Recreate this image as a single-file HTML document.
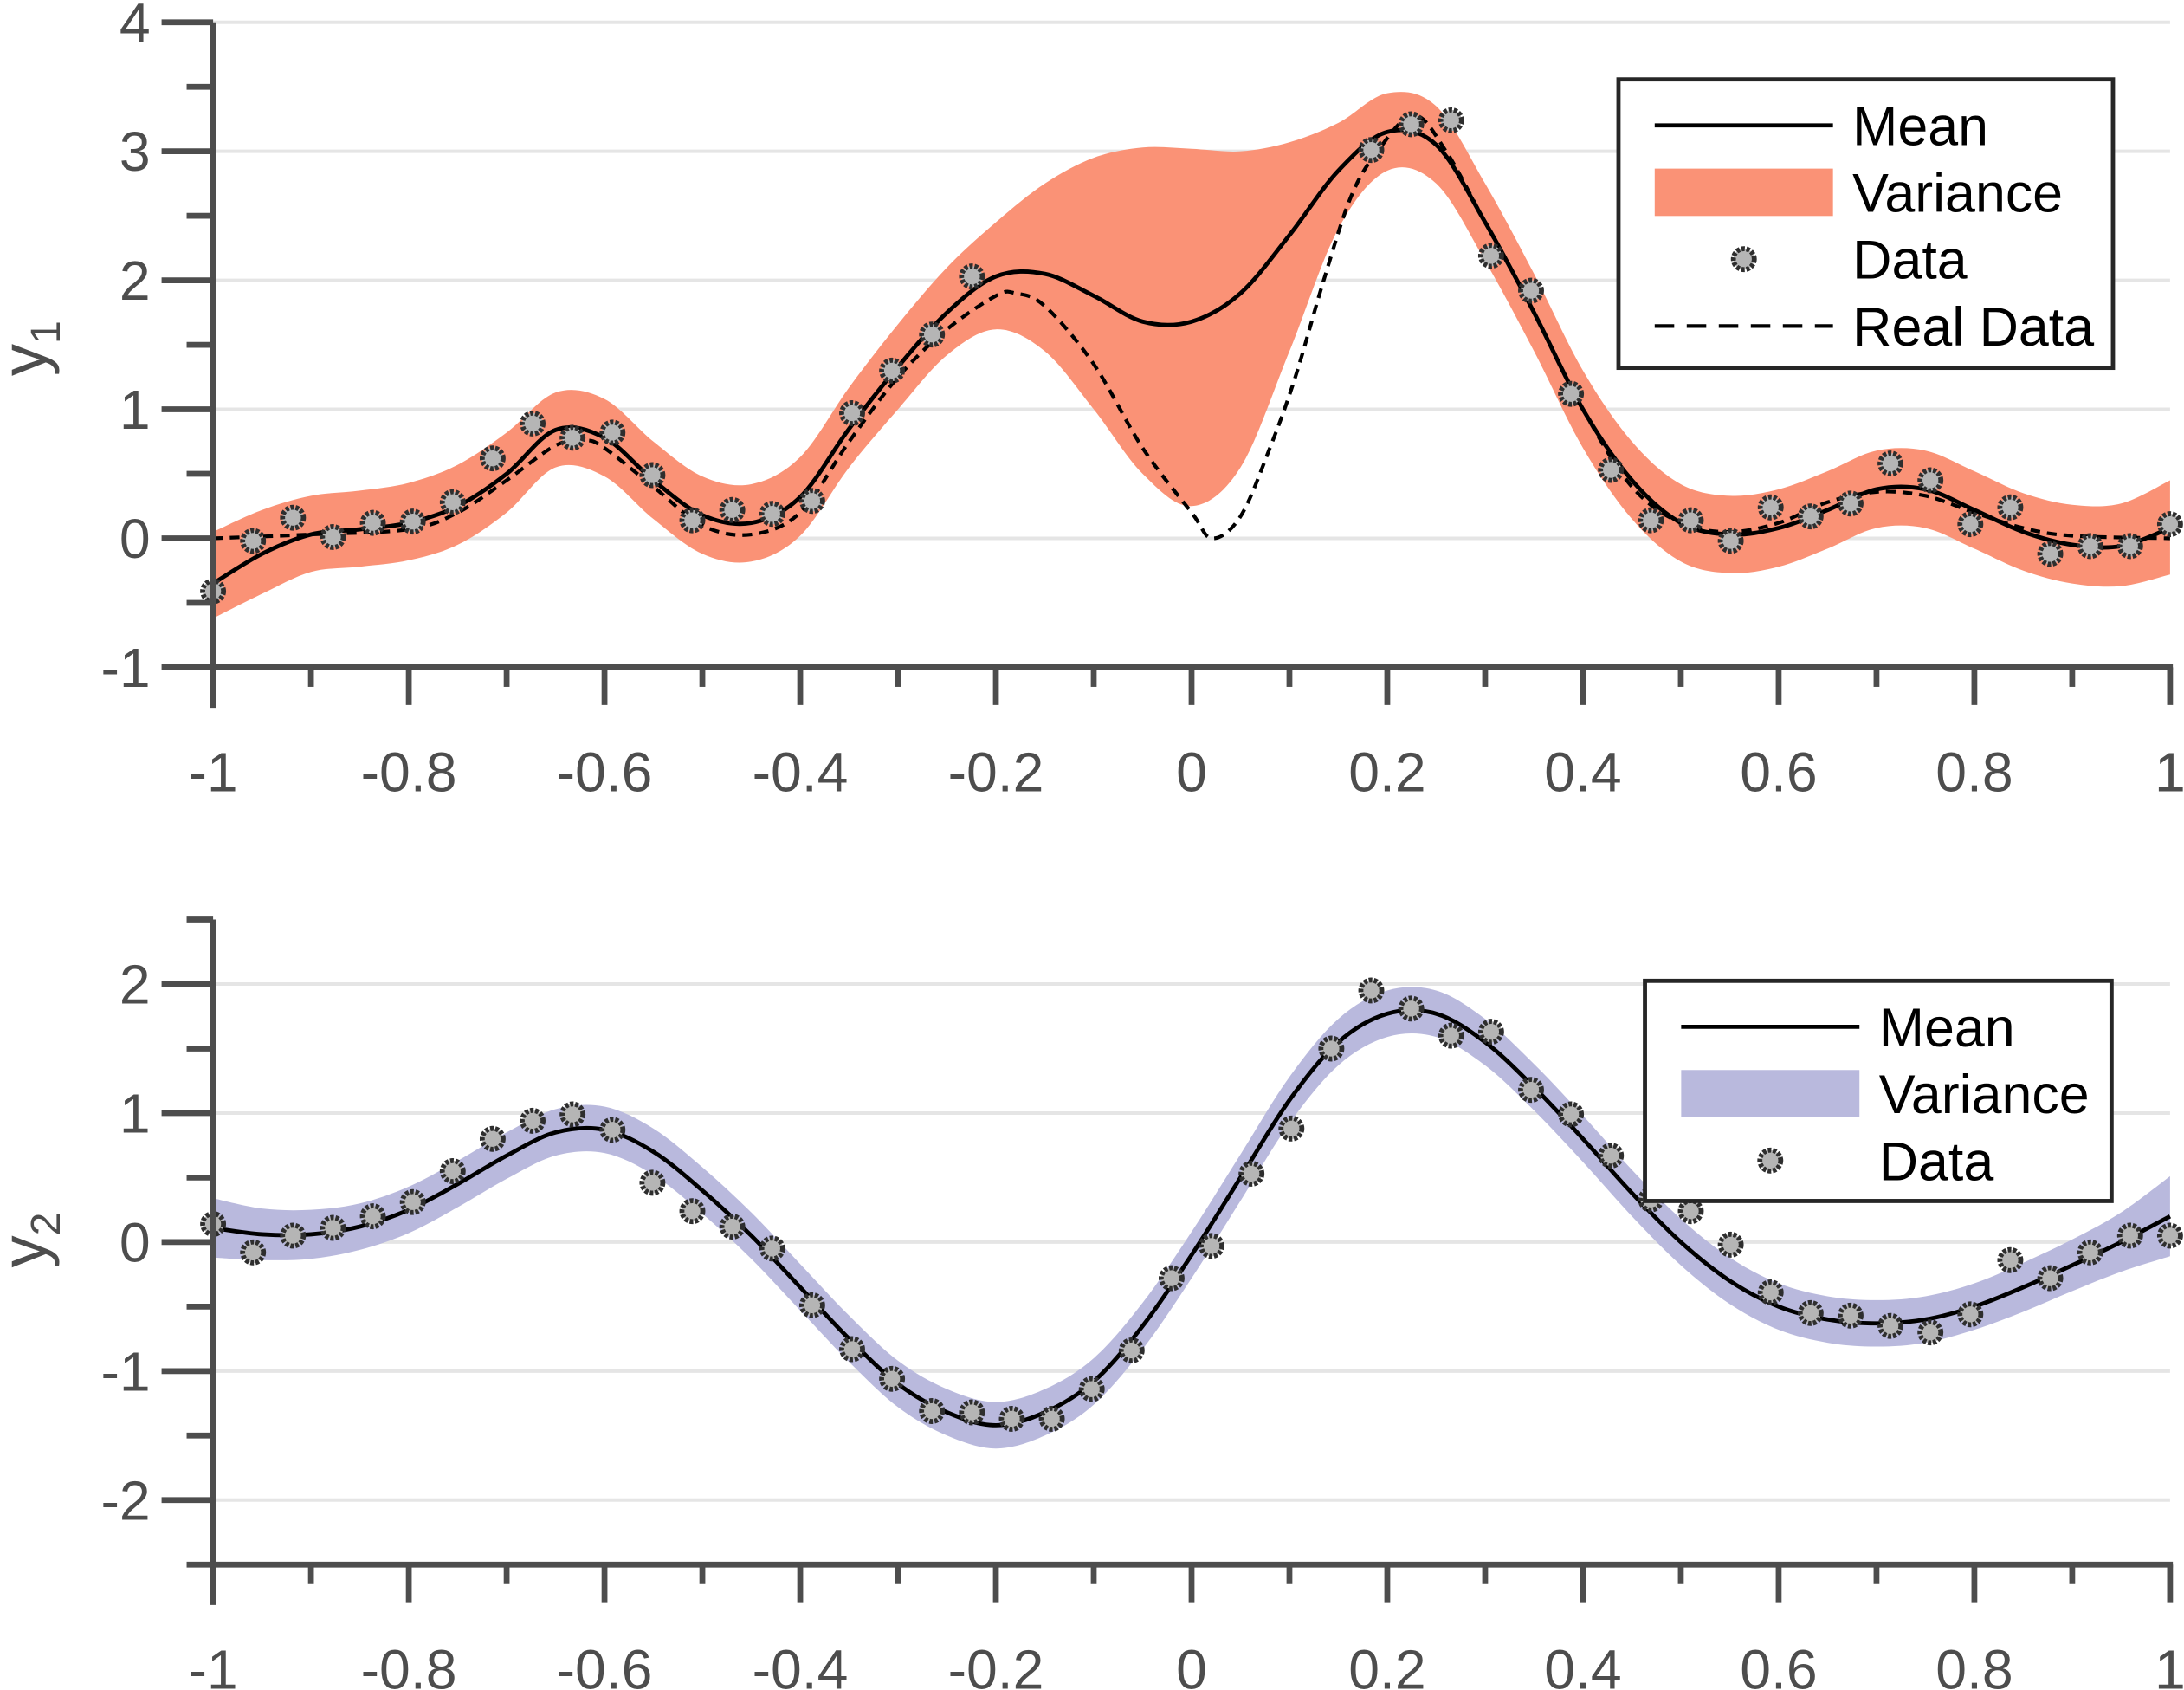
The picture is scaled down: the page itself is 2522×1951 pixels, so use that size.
<!DOCTYPE html>
<html><head><meta charset="utf-8"><style>
html,body{margin:0;padding:0;background:#fff}
svg{display:block}
text{font-family:"Liberation Sans",Arial,sans-serif}
</style></head><body>
<svg id="c" width="2522" height="1951" viewBox="0 0 1568 1213" xmlns="http://www.w3.org/2000/svg"></svg>
<script>
// ---- data: top panel (y1) ----
const gridX = [-1,-0.95,-0.9,-0.85,-0.8,-0.75,-0.7,-0.65,-0.6,-0.55,-0.5,-0.45,-0.4,-0.35,-0.3,-0.25,-0.2,-0.15,-0.1,-0.05,0,0.05,0.1,0.15,0.2,0.25,0.3,0.35,0.4,0.45,0.5,0.55,0.6,0.65,0.7,0.75,0.8,0.85,0.9,0.95,1];
const mean1 = [-0.35,-0.12,0.03,0.07,0.12,0.25,0.5,0.84,0.78,0.45,0.18,0.12,0.32,0.85,1.33,1.75,2.03,2.05,1.88,1.68,1.68,1.9,2.35,2.85,3.15,3.05,2.45,1.75,1.0,0.45,0.12,0.03,0.08,0.22,0.38,0.38,0.22,0.05,-0.05,-0.06,0.08];
const upper1 = [0.05,0.22,0.33,0.37,0.43,0.57,0.82,1.13,1.08,0.75,0.48,0.42,0.63,1.17,1.66,2.1,2.45,2.75,2.95,3.03,3.02,3.0,3.07,3.22,3.45,3.35,2.75,2.05,1.3,0.75,0.42,0.33,0.38,0.52,0.68,0.68,0.52,0.35,0.26,0.27,0.45];
const lower1 = [-0.62,-0.43,-0.26,-0.22,-0.17,-0.05,0.2,0.55,0.48,0.15,-0.12,-0.18,0.02,0.55,1.0,1.42,1.62,1.45,1.0,0.5,0.25,0.55,1.45,2.4,2.85,2.75,2.15,1.45,0.7,0.15,-0.18,-0.27,-0.22,-0.08,0.08,0.08,-0.08,-0.25,-0.35,-0.37,-0.28];
const realX = [-1,-0.9,-0.8,-0.75,-0.7,-0.65,-0.62,-0.6,-0.55,-0.5,-0.45,-0.4,-0.35,-0.3,-0.25,-0.2,-0.18,-0.15,-0.1,-0.05,0,0.021,0.05,0.08,0.106,0.135,0.163,0.19,0.227,0.26,0.3,0.35,0.4,0.45,0.5,0.55,0.6,0.65,0.7,0.75,0.8,0.85,0.9,1];
const realY = [0,0.03,0.07,0.2,0.45,0.72,0.76,0.7,0.4,0.1,0.03,0.2,0.75,1.25,1.62,1.88,1.9,1.8,1.35,0.7,0.2,0,0.17,0.7,1.25,2.0,2.65,3.0,3.28,3.0,2.45,1.75,1.0,0.4,0.12,0.05,0.12,0.28,0.36,0.33,0.2,0.08,0.02,0];
const dataIdx1 = [0,1,2,3,4,5,6,7,8,9,10,11,12,13,14,15,16,17,18,19,29,30,31,32,33,34,35,36,37,38,39,40,41,42,43,44,45,46,47,48,49];
const dataY1 = [-0.41,-0.02,0.16,0.01,0.12,0.13,0.28,0.62,0.89,0.78,0.82,0.49,0.14,0.22,0.19,0.29,0.97,1.30,1.58,2.03,3.01,3.21,3.24,2.19,1.92,1.12,0.53,0.14,0.14,-0.02,0.24,0.17,0.27,0.58,0.45,0.11,0.24,-0.12,-0.06,-0.06,0.11];
// ---- data: bottom panel (y2) ----
const mean2 = [0.11,0.06,0.06,0.12,0.25,0.45,0.67,0.85,0.87,0.7,0.4,0.05,-0.35,-0.75,-1.1,-1.32,-1.42,-1.32,-1.08,-0.65,-0.1,0.5,1.1,1.55,1.77,1.77,1.55,1.2,0.8,0.38,0.0,-0.3,-0.5,-0.6,-0.63,-0.6,-0.5,-0.35,-0.18,0.0,0.2];
const halfW2 = [0.23,0.2,0.19,0.18,0.18,0.18,0.18,0.18,0.18,0.18,0.18,0.18,0.18,0.18,0.18,0.18,0.18,0.18,0.18,0.18,0.18,0.18,0.18,0.18,0.18,0.18,0.18,0.18,0.18,0.18,0.18,0.18,0.18,0.18,0.18,0.18,0.18,0.19,0.2,0.23,0.31];
const dataY2 = [0.14,-0.08,0.05,0.11,0.2,0.31,0.55,0.8,0.94,0.99,0.87,0.46,0.24,0.12,-0.05,-0.49,-0.83,-1.06,-1.31,-1.32,-1.37,-1.37,-1.14,-0.84,-0.28,-0.03,0.53,0.88,1.5,1.95,1.81,1.6,1.63,1.18,0.99,0.67,0.33,0.24,-0.02,-0.39,-0.55,-0.57,-0.65,-0.7,-0.56,-0.14,-0.28,-0.08,0.05,0.05];
const xTicks = [-1,-0.8,-0.6,-0.4,-0.2,0,0.2,0.4,0.6,0.8,1];
const xTickLabels = ["-1","-0.8","-0.6","-0.4","-0.2","0","0.2","0.4","0.6","0.8","1"];
const y1Ticks = [-1,0,1,2,3,4];
const y2Ticks = [-2,-1,0,1,2];

const NS="http://www.w3.org/2000/svg";
const svg=document.getElementById('c');
function mk(tag,attrs,parent){const e=document.createElementNS(NS,tag);for(const k in attrs)e.setAttribute(k,attrs[k]);(parent||svg).appendChild(e);return e;}
const X0=153,X1=1558;
const sx=v=>X0+(v+1)/2*(X1-X0);
function smooth(pts){let d='M'+pts[0][0].toFixed(2)+','+pts[0][1].toFixed(2);
 for(let i=0;i<pts.length-1;i++){const p0=pts[Math.max(0,i-1)],p1=pts[i],p2=pts[i+1],p3=pts[Math.min(pts.length-1,i+2)];
  const c1=[p1[0]+(p2[0]-p0[0])/6,p1[1]+(p2[1]-p0[1])/6],c2=[p2[0]-(p3[0]-p1[0])/6,p2[1]-(p3[1]-p1[1])/6];
  d+=' C'+c1[0].toFixed(2)+','+c1[1].toFixed(2)+' '+c2[0].toFixed(2)+','+c2[1].toFixed(2)+' '+p2[0].toFixed(2)+','+p2[1].toFixed(2);}
 return d;}
function smoothCont(pts){return smooth(pts).replace(/^M/,'L');}

function panel(opt){
 const g=mk('g',{});
 
 
 const sy=v=>opt.yTop+(opt.yMax-v)*(opt.yBot-opt.yTop)/(opt.yMax-opt.yMin);
 opt.yTicks.forEach(t=>{const l=mk('line',{x1:X0,x2:X1,y1:sy(t),y2:sy(t),stroke:'#e5e5e5','stroke-width':2.5},g);
  
  });
 const up=gridX.map((x,i)=>[sx(x),sy(opt.upper[i])]);
 const lo=gridX.map((x,i)=>[sx(x),sy(opt.lower[i])]).reverse();
 const band=mk('path',{d:smooth(up)+' '+smoothCont(lo)+' Z',fill:opt.bandColor,stroke:'none'},g);
 
 
 if(opt.realX){const r=mk('path',{d:smooth(opt.realX.map((x,i)=>[sx(x),sy(opt.realY[i])])),fill:'none',stroke:'#000','stroke-width':2.6,'stroke-dasharray':'7,5'},g);
  
  }
 const m=mk('path',{d:smooth(gridX.map((x,i)=>[sx(x),sy(opt.mean[i])])),fill:'none',stroke:'#000','stroke-width':3},g);
 
 
 opt.dIdx.forEach((k,i)=>{const x=-1+k*2/49;
  const c=mk('circle',{cx:sx(x),cy:sy(opt.dY[i]),r:7.5,fill:'#b5b5b5',stroke:'#2e2e2e','stroke-width':3.6,'stroke-dasharray':'2.5,1.2'},g);
  
  });
 const axTop=sy(opt.yMax),axBot=sy(opt.yMin);
 const ax=mk('g',{stroke:'#4d4d4d','stroke-width':4.2,fill:'none'},g);
 
 
 mk('line',{x1:X0,x2:X0,y1:axTop,y2:axBot+29},ax);
 mk('line',{x1:X0-2,x2:X1+2,y1:axBot,y2:axBot},ax);
 for(let v=-1;v<=1.0001;v+=0.1){const major=Math.abs(Math.round(v*5)-v*5)<1e-6;mk('line',{x1:sx(v),x2:sx(v),y1:axBot,y2:axBot+(major?27:14)},ax);}
 for(let v=opt.yMin;v<=opt.yMax+1e-6;v+=0.5){const major=Math.abs(v-Math.round(v))<1e-6;mk('line',{x1:X0,x2:X0-(major?37:19),y1:sy(v),y2:sy(v)},ax);}
 xTicks.forEach((t,i)=>{const tx=mk('text',{x:sx(t),y:axBot+89,'font-size':40,fill:'#4d4d4d','text-anchor':'middle'},g);tx.textContent=xTickLabels[i];
  
  });
 opt.yTicks.forEach(t=>{const tx=mk('text',{x:108,y:sy(t)+14,'font-size':40,fill:'#4d4d4d','text-anchor':'end'},g);tx.textContent=String(t);
  
  });
 const yl=mk('text',{x:0,y:0,'font-size':46,fill:'#4d4d4d','text-anchor':'middle',transform:`translate(33,${opt.labelY}) rotate(-90)`},g);
 yl.innerHTML='y<tspan font-size="30" dy="10">'+opt.sub+'</tspan>';
 
 
 const L=opt.leg;
 const lg=mk('g',{},g);
 
 
 mk('rect',{x:L.x,y:L.y,width:L.w,height:L.h,fill:'#fff',stroke:'#262626','stroke-width':3},lg);
 L.items.forEach((it,i)=>{const cy=L.y+33+i*48;const sx0=L.x+26,sx1=L.x+154;
  if(it==='Mean')mk('line',{x1:sx0,x2:sx1,y1:cy,y2:cy,stroke:'#000','stroke-width':3},lg);
  if(it==='Variance')mk('rect',{x:sx0,y:cy-17,width:sx1-sx0,height:34,fill:opt.bandColor},lg);
  if(it==='Data')mk('circle',{cx:(sx0+sx1)/2,cy:cy,r:7.5,fill:'#b5b5b5',stroke:'#2e2e2e','stroke-width':3.6,'stroke-dasharray':'2.5,1.2'},lg);
  if(it==='Real Data')mk('line',{x1:sx0,x2:sx1,y1:cy,y2:cy,stroke:'#000','stroke-width':2.6,'stroke-dasharray':'14,9'},lg);
  const t=mk('text',{x:L.x+168,y:cy+14,'font-size':39,fill:'#000'},lg);t.textContent=it;
  
  });
}
panel({name:'y1-panel',yMin:-1,yMax:4,yTop:16,yBot:479,yTicks:y1Ticks,mean:mean1,upper:upper1,lower:lower1,bandColor:'#fa9276',realX:realX,realY:realY,dIdx:dataIdx1,dY:dataY1,sub:'1',labelY:250,
 leg:{x:1162,y:57,w:355,h:207,items:['Mean','Variance','Data','Real Data']}});
const idx2=dataY2.map((v,i)=>i);
panel({name:'y2-panel',yMin:-2.5,yMax:2.5,yTop:660,yBot:1123,yTicks:y2Ticks,mean:mean2,upper:mean2.map((m,i)=>m+halfW2[i]),lower:mean2.map((m,i)=>m-halfW2[i]),bandColor:'#b9b9dd',dIdx:idx2,dY:dataY2,sub:'2',labelY:890,
 leg:{x:1181,y:704,w:335,h:158,items:['Mean','Variance','Data']}});
</script>
</body></html>
